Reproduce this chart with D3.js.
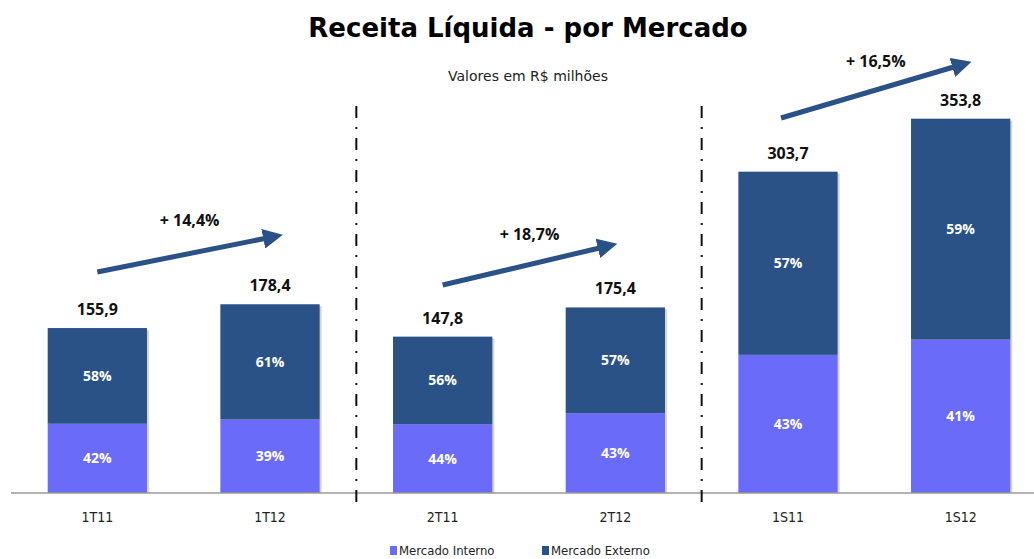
<!DOCTYPE html>
<html>
<head>
<meta charset="utf-8">
<script src="https://cdn.jsdelivr.net/npm/d3@7"></script>
<style>
  body { margin: 0; background: #fff; }
  svg { display: block; }
</style>
</head>
<body>
<svg id="chart"></svg>
<script>
// data
const periods = ["1T11", "1T12", "2T11", "2T12", "1S11", "1S12"];
const totals = [155.9, 178.4, 147.8, 175.4, 303.7, 353.8];
const internoPct = [42, 39, 44, 43, 43, 41];
const externoPct = [58, 61, 56, 57, 57, 59];
const growthLabels = ["+ 14,4%", "+ 18,7%", "+ 16,5%"];
const seriesNames = ["Mercado Interno", "Mercado Externo"];

// constants
const width = 1034;
const height = 559;
const baseline = 493;
const colInterno = "#6b6bfa";
const colExterno = "#2a5286";

const svg = d3.select("svg#chart").attr("width", width).attr("height", height);

const x = d3.scaleBand()
    .domain(periods)
    .range([11, 1047])
    .paddingInner(0.425)
    .paddingOuter(0.2125);

const y = d3.scaleLinear()
    .domain([0, 400])
    .range([baseline, baseline - 400 * 1.058]);

// title
svg.append("text")
    .attr("x", 528).attr("y", 37)
    .attr("text-anchor", "middle")
    .style("font-family", "'DejaVu Sans', sans-serif")
    .style("font-weight", "bold")
    .style("font-size", "26px")
    .text("Receita Líquida - por Mercado");

svg.append("text")
    .attr("x", 528).attr("y", 81)
    .attr("text-anchor", "middle")
    .style("font-family", "'DejaVu Sans', sans-serif")
    .style("font-size", "14px")
    .style("fill", "#222")
    .text("Valores em R$ milhões");

// stacked bars
const rows = periods.map((p, i) => ({
    period: p,
    total: totals[i],
    interno: totals[i] * internoPct[i] / 100,
    ip: internoPct[i],
    ep: externoPct[i]
}));

const bars = svg.append("g").selectAll("g")
    .data(rows)
    .enter().append("g");

// little shadow on the right side
bars.append("rect")
    .attr("x", d => x(d.period) + 2)
    .attr("y", d => y(d.total) + 2)
    .attr("width", x.bandwidth())
    .attr("height", d => baseline - y(d.total) - 2)
    .attr("fill", "#d4d4d4");

bars.append("rect")
    .attr("x", d => x(d.period))
    .attr("y", d => y(d.interno))
    .attr("width", x.bandwidth())
    .attr("height", d => baseline - y(d.interno))
    .attr("fill", colInterno);

bars.append("rect")
    .attr("x", d => x(d.period))
    .attr("y", d => y(d.total))
    .attr("width", x.bandwidth())
    .attr("height", d => y(d.interno) - y(d.total))
    .attr("fill", colExterno);

bars.append("text")
    .attr("x", d => x(d.period) + x.bandwidth() / 2)
    .attr("y", d => (y(d.interno) + baseline) / 2 + 5)
    .attr("text-anchor", "middle")
    .style("font-family", "'Open Sans', sans-serif")
    .style("font-weight", "bold")
    .style("font-size", "14px")
    .style("fill", "#fff")
    .text(d => d.ip + "%");

bars.append("text")
    .attr("x", d => x(d.period) + x.bandwidth() / 2)
    .attr("y", d => (y(d.total) + y(d.interno)) / 2 + 5)
    .attr("text-anchor", "middle")
    .style("font-family", "'Open Sans', sans-serif")
    .style("font-weight", "bold")
    .style("font-size", "14px")
    .style("fill", "#fff")
    .text(d => d.ep + "%");

bars.append("text")
    .attr("x", d => x(d.period) + x.bandwidth() / 2)
    .attr("y", d => y(d.total) - 13)
    .attr("text-anchor", "middle")
    .style("font-family", "'Open Sans', sans-serif")
    .style("font-weight", "bold")
    .style("font-size", "16px")
    .style("fill", "#111")
    .text(d => d3.format(".1f")(d.total).replace(".", ","));

// axis
svg.append("line")
    .attr("x1", 11).attr("x2", width)
    .attr("y1", baseline).attr("y2", baseline)
    .attr("stroke", "#999").attr("stroke-width", 1.5);

svg.append("g").selectAll("text")
    .data(periods)
    .enter().append("text")
    .attr("x", d => x(d) + x.bandwidth() / 2)
    .attr("y", 522)
    .attr("text-anchor", "middle")
    .style("font-family", "'DejaVu Sans Condensed', 'DejaVu Sans', sans-serif")
    .style("font-size", "14px")
    .style("fill", "#222")
    .text(d => d);

// separators between groups
const step = x.step();
[2, 4].forEach(i => {
    const sx = x(periods[i]) - (step - x.bandwidth()) / 2;
    svg.append("line")
        .attr("x1", sx).attr("x2", sx)
        .attr("y1", 106).attr("y2", 506)
        .attr("stroke", "#111")
        .attr("stroke-width", 2)
        .attr("stroke-dasharray", "12,9,2,9");
});

// growth arrows
svg.append("defs").append("marker")
    .attr("id", "head")
    .attr("viewBox", "0 0 10 10")
    .attr("refX", 2).attr("refY", 5)
    .attr("markerWidth", 4).attr("markerHeight", 4)
    .attr("orient", "auto")
    .append("path")
    .attr("d", "M0,0 L10,5 L0,10 Z")
    .attr("fill", colExterno);

const arrows = [
    { a: 0, b: 1, x0: 0.5, tip: 0.62, y0: 272, y1: 235, ly: 226 },
    { a: 2, b: 3, x0: 0.5, tip: 0.51, y0: 285, y1: 244, ly: 240 },
    { a: 4, b: 5, x0: 0.43, tip: 0.6, y0: 118, y1: 62, ly: 67 }
];

arrows.forEach((ar, i) => {
    const x0 = x(periods[ar.a]) + x.bandwidth() * ar.x0;
    const tip = x(periods[ar.b]) + x.bandwidth() * ar.tip;
    const ang = Math.atan2(ar.y1 - ar.y0, tip - x0);
    const x1 = tip - 15 * Math.cos(ang);
    const y1 = ar.y1 - 15 * Math.sin(ang);
    svg.append("line")
        .attr("x1", x0).attr("y1", ar.y0)
        .attr("x2", x1).attr("y2", y1)
        .attr("stroke", colExterno)
        .attr("stroke-width", 5)
        .attr("marker-end", "url(#head)");
    svg.append("text")
        .attr("x", (x0 + tip) / 2)
        .attr("y", ar.ly)
        .attr("text-anchor", "middle")
        .style("font-family", "'Open Sans', sans-serif")
        .style("font-weight", "bold")
        .style("font-size", "16px")
        .style("fill", "#111")
        .text(growthLabels[i]);
});

// legend
const legend = svg.append("g").selectAll("g")
    .data(seriesNames)
    .enter().append("g")
    .attr("transform", (d, i) => "translate(" + (390 + i * 152) + ",0)");

legend.append("rect")
    .attr("x", 0).attr("y", 546)
    .attr("width", 7).attr("height", 9)
    .attr("fill", (d, i) => i === 0 ? colInterno : colExterno);

legend.append("text")
    .attr("x", 9).attr("y", 555)
    .style("font-family", "'DejaVu Sans Condensed', 'DejaVu Sans', sans-serif")
    .style("font-size", "13px")
    .style("fill", "#222")
    .text(d => d);
</script>
</body>
</html>
